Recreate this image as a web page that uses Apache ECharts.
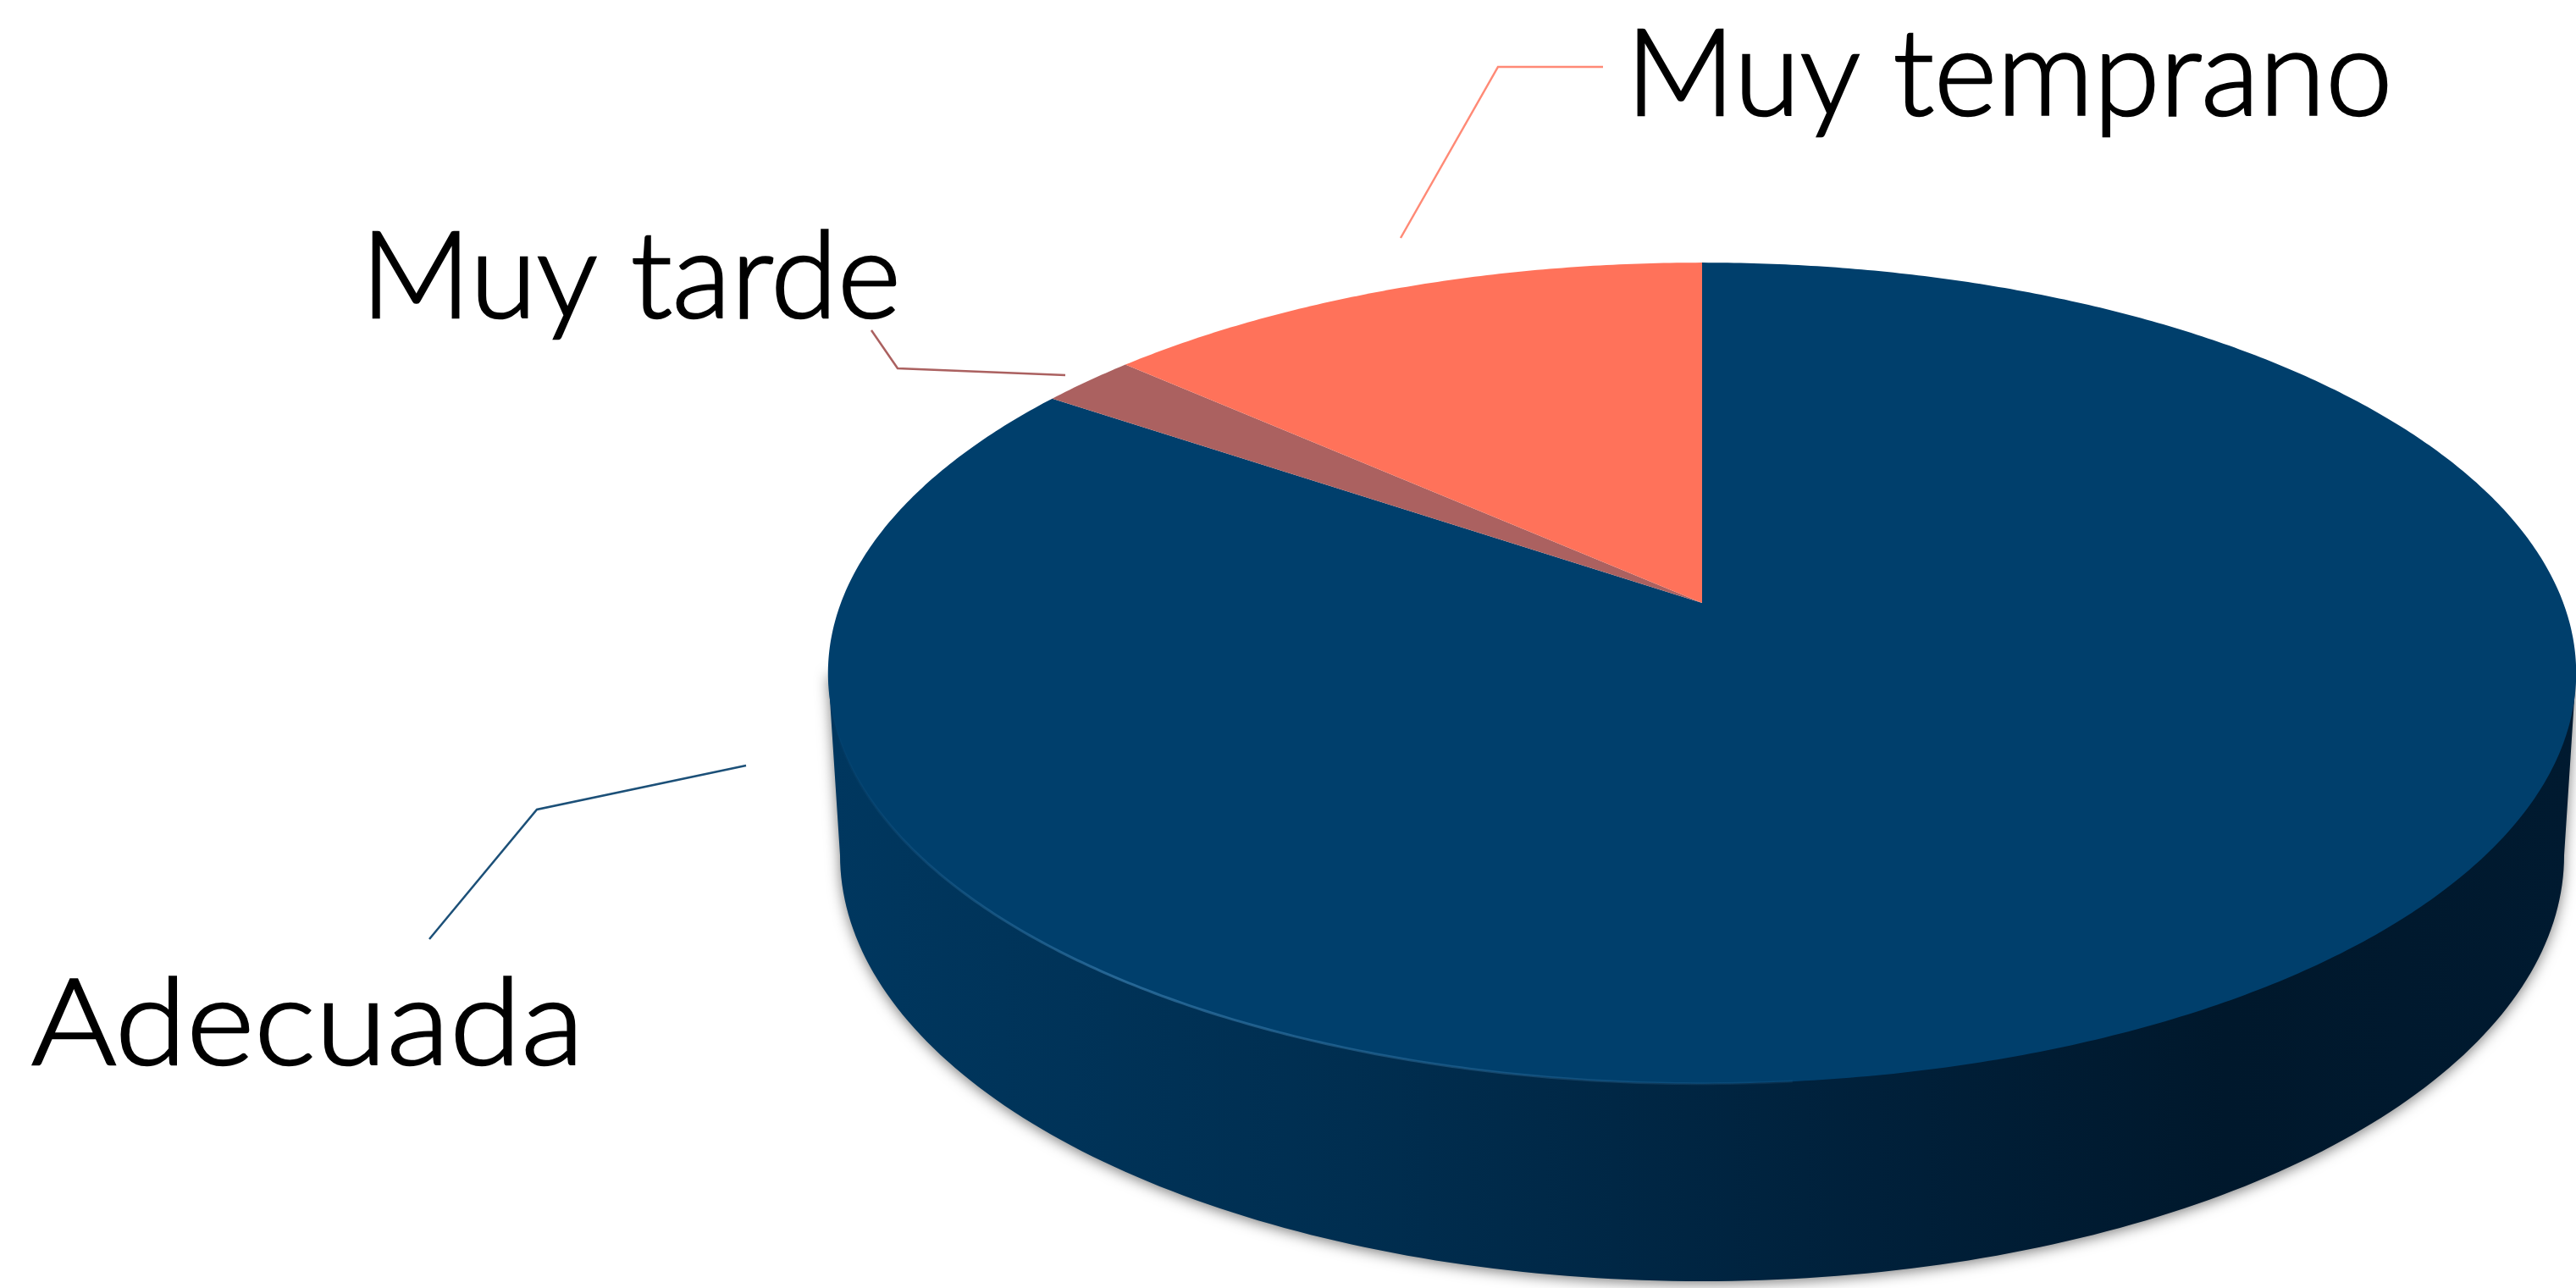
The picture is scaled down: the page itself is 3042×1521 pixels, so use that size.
<!DOCTYPE html>
<html>
<head>
<meta charset="utf-8">
<style>
  html, body { margin: 0; padding: 0; background: #fff; }
  #main { width: 3042px; height: 1521px; }
</style>
<script src="https://cdn.jsdelivr.net/npm/echarts@6/dist/echarts.min.js"></script>
</head>
<body>
<div id="main"></div>
<script>
    // datos, en sentido horario desde arriba
    const categories = ['Adecuada', 'Muy tarde', 'Muy temprano']
    const seriesValues = [84.5, 2.1, 13.4]

    // estilo de cada porcion
    const sliceColors = ['#003f6c', '#ab6160', '#ff725a']
    const leaderColors = ['#1c5078', '#ab6160', '#ff8a76']

    // elipse superior y centro de la tarta en perspectiva
    const pie = { cx: 2010, apexY: 712, a: 1017, b: 470.6, k: 0.171 }
    // elipse inferior del lateral
    const base = { cx: 2010, cy: 1010, rx: 1018, ry: 503 }
    const topLeft = [978, 795]
    const topRight = [3042, 795]

    // etiquetas y lineas guia
    const labelPos = [
        { x: 37, y: 1211, scaleX: 1.08, leader: [[881, 904], [634, 956], [507, 1109]] },
        { x: 426, y: 329, scaleX: 1.01, leader: [[1029, 390], [1060, 435], [1258, 443]] },
        { x: 1920, y: 90, scaleX: 1, leader: [[1654, 281], [1769, 79], [1893, 79]] }
    ]

    // angulo (0 = arriba, horario) a pixel de la cara superior
    const project = (deg) => {
        const t = deg * Math.PI / 180
        const x = Math.sin(t)
        const y = Math.cos(t)
        const d = 1 + pie.k * y
        return [pie.cx + pie.a * x / d, pie.apexY - pie.b * y / d]
    }

    const total = seriesValues.reduce((s, v) => s + v, 0)
    const arcPoints = (from, to) => {
        const pts = []
        const n = Math.max(2, Math.ceil(Math.abs(to - from) * 2))
        for (let i = 0; i <= n; i++) {
            pts.push(project(from + (to - from) * i / n))
        }
        return pts
    }

    let acc = 0
    const sliceData = seriesValues.map((v, i) => {
        const start = acc
        acc += v
        return [start, acc, i]
    })

    // lateral: mitad baja de la elipse inferior, unida a los extremos de la cara
    const wallPoints = () => {
        const pts = [topLeft]
        for (let d = 180; d >= 0; d -= 1) {
            const t = d * Math.PI / 180
            pts.push([base.cx + base.rx * Math.cos(t), base.cy + base.ry * Math.sin(t)])
        }
        pts.push(topRight)
        return pts
    }

    const option = {
        animation: false,
        backgroundColor: '#ffffff',
        series: [
            // lateral
            {
                type: 'custom',
                coordinateSystem: 'none',
                silent: true,
                data: [[0]],
                renderItem: () => ({
                    type: 'polygon',
                    shape: { points: wallPoints() },
                    style: {
                        fill: new echarts.graphic.LinearGradient(0, 0, 1, 0, [
                            { offset: 0, color: '#00375f' },
                            { offset: 0.3, color: '#002e50' },
                            { offset: 0.6, color: '#00203a' },
                            { offset: 0.8, color: '#00182c' },
                            { offset: 1, color: '#001a30' }
                        ]),
                        shadowBlur: 16,
                        shadowColor: 'rgba(40,40,40,0.6)',
                        shadowOffsetY: 3
                    }
                })
            },
            // porciones
            {
                type: 'custom',
                coordinateSystem: 'none',
                silent: true,
                data: sliceData,
                renderItem: (params, api) => {
                    const from = api.value(0) / total * 360
                    const to = api.value(1) / total * 360
                    return {
                        type: 'polygon',
                        shape: { points: [[pie.cx, pie.apexY]].concat(arcPoints(from, to)) },
                        style: { fill: sliceColors[api.value(2)] }
                    }
                }
            },
            // brillo del borde
            {
                type: 'custom',
                coordinateSystem: 'none',
                silent: true,
                data: [[0]],
                renderItem: () => ({
                    type: 'polyline',
                    shape: { points: arcPoints(262, 175) },
                    style: {
                        fill: null,
                        lineWidth: 3,
                        stroke: new echarts.graphic.LinearGradient(0, 0, 1, 0, [
                            { offset: 0, color: 'rgba(70,140,190,0)' },
                            { offset: 0.3, color: 'rgba(70,140,190,0.55)' },
                            { offset: 1, color: 'rgba(70,140,190,0.1)' }
                        ])
                    }
                })
            },
            // lineas guia y etiquetas
            {
                type: 'custom',
                coordinateSystem: 'none',
                silent: true,
                data: categories.map((c, i) => [i]),
                renderItem: (params, api) => {
                    const i = api.value(0)
                    return {
                        type: 'group',
                        children: [
                            {
                                type: 'polyline',
                                shape: { points: labelPos[i].leader },
                                style: { fill: null, stroke: leaderColors[i], lineWidth: 2.5 }
                            },
                            {
                                type: 'text',
                                x: labelPos[i].x,
                                y: labelPos[i].y,
                                scaleX: labelPos[i].scaleX,
                                style: {
                                    text: categories[i],
                                    fill: '#000000',
                                    stroke: '#000000',
                                    lineWidth: 2.5,
                                    font: '300 142px Lato',
                                    verticalAlign: 'middle',
                                    align: 'left'
                                }
                            }
                        ]
                    }
                }
            }
        ]
    }

    const mChart = echarts.init(document.getElementById('main'))
    mChart.setOption(option)
</script>
</body>
</html>
